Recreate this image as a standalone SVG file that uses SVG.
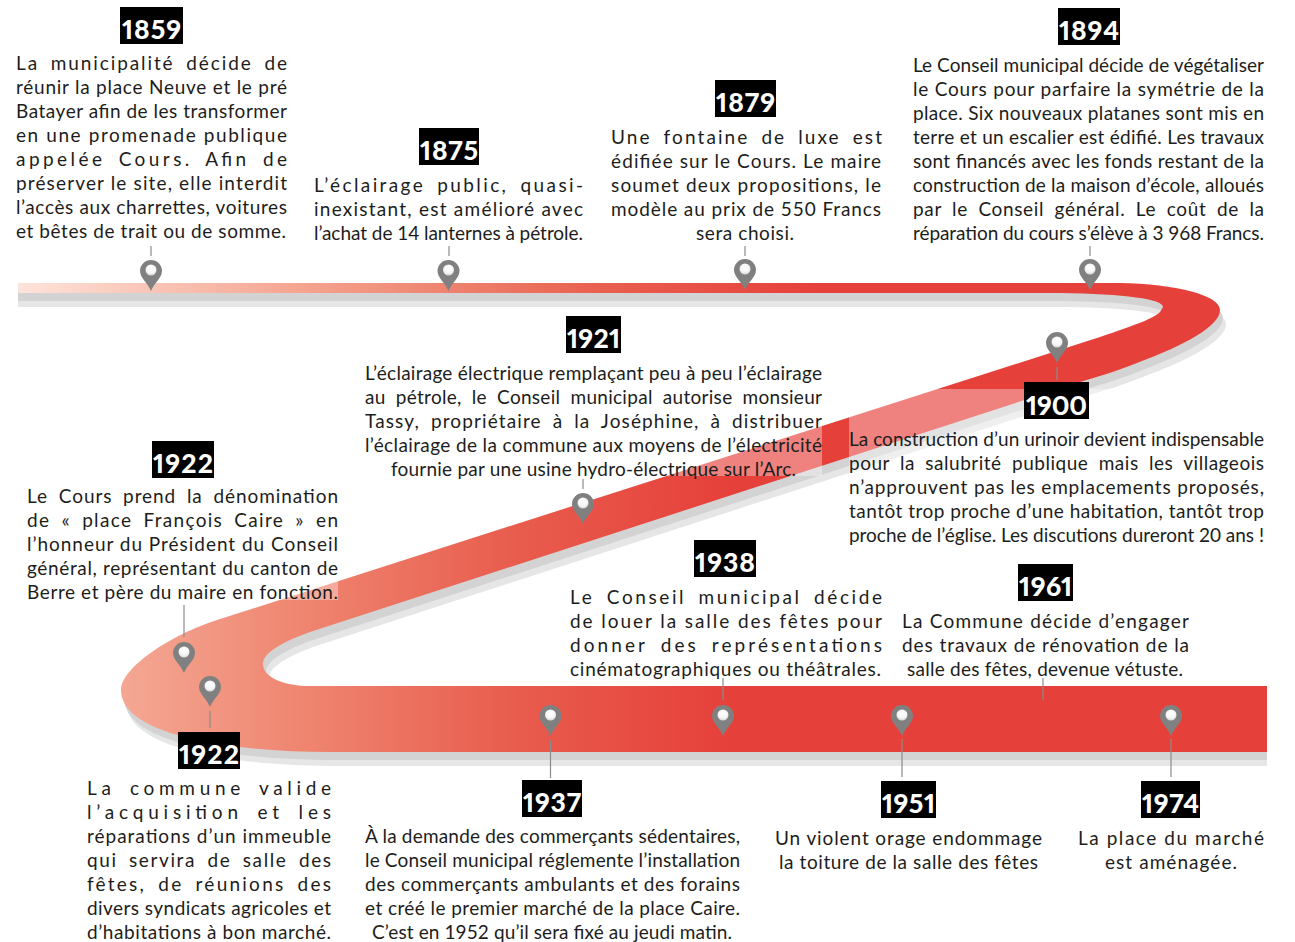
<svg xmlns="http://www.w3.org/2000/svg" xmlns:xlink="http://www.w3.org/1999/xlink" width="1295" height="942" viewBox="0 0 1295 942">
<style>
.t{font-family:"Lato","Liberation Sans",sans-serif;font-size:19px;fill:#1d1d1b}
.w{word-spacing:5px}
.y{font-family:"Lato","Liberation Sans",sans-serif;font-size:26.500px;font-weight:900;fill:#fff;font-variant-numeric:proportional-nums}
.b{fill:#000}
.s{stroke:#8c8c8c;stroke-width:1.2;fill:none}
.v{fill:#fff;fill-opacity:.35}
</style>
<defs>
<linearGradient id="g1" gradientUnits="userSpaceOnUse" x1="18" y1="0" x2="820" y2="0"><stop offset="0" stop-color="#fde3da"/><stop offset=".35" stop-color="#f4a590"/><stop offset=".72" stop-color="#e9604f"/><stop offset="1" stop-color="#e6403b"/></linearGradient>
<linearGradient id="g2" gradientUnits="userSpaceOnUse" x1="121" y1="0" x2="730" y2="0"><stop offset="0" stop-color="#f4a793"/><stop offset=".3" stop-color="#ef8570"/><stop offset=".65" stop-color="#e85c4d"/><stop offset="1" stop-color="#e6403b"/></linearGradient>
<radialGradient id="g3" cx=".5" cy=".35" r=".7"><stop offset="0" stop-color="#fff"/><stop offset=".6" stop-color="#f6f6f6"/><stop offset="1" stop-color="#cfcfcf"/></radialGradient>
<clipPath id="c"><rect x="18" y="0" width="1249" height="942"/></clipPath>
<path id="r" d="M0 283H1120C1175 284 1220 295 1220 310C1220 326 1185 345 1137 363C1120 370 1100 376 1080 382L310 632C285 641 263 652 263 664C263 678 285 686 310 686H1295V752H330C230 752 121 735 121 690C121 668 170 635 217 620L1100 337C1135 325 1163 316 1163 307C1163 299 1125 294 1060 293H0Z"/>
<g id="p"><path d="M0 0C-3 -8 -11 -13 -11 -20A11 11 0 1 1 11 -20C11 -13 3 -8 0 0Z" fill="#808080"/><circle cx="0" cy="-21" r="5.500" fill="url(#g3)"/></g>
</defs>

<g id="ribbon" clip-path="url(#c)">
<use href="#r" transform="translate(6,14)" fill="#e6e6e6"/>
<use href="#r" transform="translate(3,8)" fill="#d3d3d3"/>
<path fill="url(#g2)" d="M1220 310C1220 326 1185 345 1137 363C1120 370 1100 376 1080 382L310 632C285 641 263 652 263 664C263 678 285 686 310 686H1295V752H330C230 752 121 735 121 690C121 668 170 635 217 620L1100 337C1135 325 1163 316 1163 307Z"/>
<path fill="url(#g1)" d="M0 283H1120C1175 284 1220 295 1220 310L1195 328L1150 330L1163 307C1163 299 1125 294 1060 293H0Z"/>
</g>
<g id="veils">
<rect class="v" x="365" y="362" width="457" height="114"/>
<rect class="v" x="849" y="389" width="415" height="156"/>
<rect class="v" x="27" y="483" width="311" height="117"/>
</g>

<g id="connectors">
<path class="s" d="M151 246V256M449 246V256M745 246V256M1090 246V256M1057 367V380M583 479V489M184 605V637M210 711V728M550.500 740V778M723 678V700M902 739V777M1171 739V777M1043 678V700"/>
</g>

<g id="n1859">
<use href="#p" x="151" y="291"/>
<rect class="b" x="120" y="7" width="63" height="37"/><text class="y" x="122" y="39" textLength="59">1859</text>
<text class="t w" x="16" y="70" textLength="271">La municipalité décide de</text>
<text class="t" x="16" y="94" textLength="271">réunir la place Neuve et le pré</text>
<text class="t" x="16" y="118" textLength="271">Batayer afin de les transformer</text>
<text class="t" x="16" y="142" textLength="271">en une promenade publique</text>
<text class="t w" x="16" y="166" textLength="271">appelée Cours. Afin de</text>
<text class="t" x="16" y="190" textLength="271">préserver le site, elle interdit</text>
<text class="t" x="16" y="214" textLength="271">l’accès aux charrettes, voitures</text>
<text class="t" x="16" y="238" textLength="270">et bêtes de trait ou de somme.</text>
</g>
<g id="n1875">
<use href="#p" x="448.500" y="291"/>
<rect class="b" x="419" y="128" width="60" height="37"/><text class="y" x="420" y="160" textLength="58">1875</text>
<text class="t w" x="314" y="192" textLength="269">L’éclairage public, quasi-</text>
<text class="t" x="314" y="216" textLength="269">inexistant, est amélioré avec</text>
<text class="t" x="314" y="240" textLength="269">l’achat de 14 lanternes à pétrole.</text>
</g>
<g id="n1879">
<use href="#p" x="745" y="290"/>
<rect class="b" x="715" y="80" width="61" height="37"/><text class="y" x="716" y="112" textLength="59">1879</text>
<text class="t w" x="611" y="144" textLength="271">Une fontaine de luxe est</text>
<text class="t" x="611" y="168" textLength="270">édifiée sur le Cours. Le maire</text>
<text class="t" x="611" y="192" textLength="270">soumet deux propositions, le</text>
<text class="t" x="611" y="216" textLength="270">modèle au prix de 550 Francs</text>
<text class="t" x="696" y="240" textLength="98">sera choisi.</text>
</g>
<g id="n1894">
<use href="#p" x="1090" y="290"/>
<rect class="b" x="1058" y="8" width="62" height="37"/><text class="y" x="1059" y="40" textLength="60">1894</text>
<text class="t" x="913" y="72" textLength="351">Le Conseil municipal décide de végétaliser</text>
<text class="t" x="913" y="96" textLength="351">le Cours pour parfaire la symétrie de la</text>
<text class="t" x="913" y="120" textLength="351">place. Six nouveaux platanes sont mis en</text>
<text class="t" x="913" y="144" textLength="351">terre et un escalier est édifié. Les travaux</text>
<text class="t" x="913" y="168" textLength="351">sont financés avec les fonds restant de la</text>
<text class="t" x="913" y="192" textLength="351">construction de la maison d’école, alloués</text>
<text class="t w" x="913" y="216" textLength="351">par le Conseil général. Le coût de la</text>
<text class="t" x="913" y="240" textLength="351">réparation du cours s’élève à 3 968 Francs.</text>
</g>
<g id="n1900">
<use href="#p" x="1057" y="363"/>
<rect class="b" x="1024" y="382" width="65" height="37"/><text class="y" x="1026" y="415" textLength="61">1900</text>
<text class="t" x="849" y="446" textLength="415">La construction d’un urinoir devient indispensable</text>
<text class="t w" x="849" y="470" textLength="415">pour la salubrité publique mais les villageois</text>
<text class="t" x="849" y="494" textLength="415">n’approuvent pas les emplacements proposés,</text>
<text class="t" x="849" y="518" textLength="415">tantôt trop proche d’une habitation, tantôt trop</text>
<text class="t" x="849" y="542" textLength="415">proche de l’église. Les discutions dureront 20 ans !</text>
</g>
<g id="n1921">
<use href="#p" x="583" y="524"/>
<rect class="b" x="566" y="316" width="55" height="37"/><text class="y" x="567" y="348" textLength="53">1921</text>
<text class="t" x="365" y="380" textLength="457">L’éclairage électrique remplaçant peu à peu l’éclairage</text>
<text class="t w" x="365" y="404" textLength="457">au pétrole, le Conseil municipal autorise monsieur</text>
<text class="t w" x="365" y="428" textLength="457">Tassy, propriétaire à la Joséphine, à distribuer</text>
<text class="t" x="365" y="452" textLength="457">l’éclairage de la commune aux moyens de l’électricité</text>
<text class="t" x="391" y="476" textLength="405">fournie par une usine hydro-électrique sur l’Arc.</text>
</g>
<g id="n1922a">
<use href="#p" x="184" y="673"/>
<rect class="b" x="152" y="441" width="62" height="37"/><text class="y" x="153" y="473" textLength="60">1922</text>
<text class="t w" x="27" y="503" textLength="311">Le Cours prend la dénomination</text>
<text class="t w" x="27" y="527" textLength="311">de « place François Caire » en</text>
<text class="t" x="27" y="551" textLength="311">l’honneur du Président du Conseil</text>
<text class="t" x="27" y="575" textLength="311">général, représentant du canton de</text>
<text class="t" x="27" y="599" textLength="311">Berre et père du maire en fonction.</text>
</g>
<g id="n1922b">
<use href="#p" x="210" y="707"/>
<rect class="b" x="178" y="732" width="62" height="37"/><text class="y" x="179" y="764" textLength="60">1922</text>
<text class="t w" x="87" y="795" textLength="244">La commune valide</text>
<text class="t w" x="87" y="819" textLength="244">l’acquisition et les</text>
<text class="t" x="87" y="843" textLength="244">réparations d’un immeuble</text>
<text class="t w" x="87" y="867" textLength="244">qui servira de salle des</text>
<text class="t w" x="87" y="891" textLength="244">fêtes, de réunions des</text>
<text class="t" x="87" y="915" textLength="244">divers syndicats agricoles et</text>
<text class="t" x="87" y="939" textLength="244">d’habitations à bon marché.</text>
</g>
<g id="n1937">
<use href="#p" x="550.500" y="736"/>
<rect class="b" x="522" y="780" width="60" height="37"/><text class="y" x="523" y="812" textLength="58">1937</text>
<text class="t" x="365" y="843" textLength="375">À la demande des commerçants sédentaires,</text>
<text class="t" x="365" y="867" textLength="375">le Conseil municipal réglemente l’installation</text>
<text class="t" x="365" y="891" textLength="375">des commerçants ambulants et des forains</text>
<text class="t" x="365" y="915" textLength="375">et créé le premier marché de la place Caire.</text>
<text class="t" x="372" y="939" textLength="360">C’est en 1952 qu’il sera fixé au jeudi matin.</text>
</g>
<g id="n1938">
<use href="#p" x="723" y="736"/>
<rect class="b" x="694" y="540" width="62" height="37"/><text class="y" x="695" y="572" textLength="60">1938</text>
<text class="t w" x="570" y="604" textLength="312">Le Conseil municipal décide</text>
<text class="t" x="570" y="628" textLength="312">de louer la salle des fêtes pour</text>
<text class="t w" x="570" y="652" textLength="312">donner des représentations</text>
<text class="t" x="570" y="676" textLength="311">cinématographiques ou théâtrales.</text>
</g>
<g id="n1951">
<use href="#p" x="902" y="736"/>
<rect class="b" x="881" y="781" width="55" height="37"/><text class="y" x="882" y="813" textLength="53">1951</text>
<text class="t" x="775" y="845" textLength="267">Un violent orage endommage</text>
<text class="t" x="779" y="869" textLength="259">la toiture de la salle des fêtes</text>
</g>
<g id="n1961">
<rect class="b" x="1018" y="564" width="55" height="37"/><text class="y" x="1019" y="596" textLength="53">1961</text>
<text class="t" x="902" y="628" textLength="287">La Commune décide d’engager</text>
<text class="t" x="902" y="652" textLength="287">des travaux de rénovation de la</text>
<text class="t" x="907" y="676" textLength="276">salle des fêtes, devenue vétuste.</text>
</g>
<g id="n1974">
<use href="#p" x="1171" y="736"/>
<rect class="b" x="1141" y="781" width="59" height="37"/><text class="y" x="1142" y="813" textLength="57">1974</text>
<text class="t" x="1078" y="845" textLength="186">La place du marché</text>
<text class="t" x="1105" y="869" textLength="132">est aménagée.</text>
</g>
</svg>
